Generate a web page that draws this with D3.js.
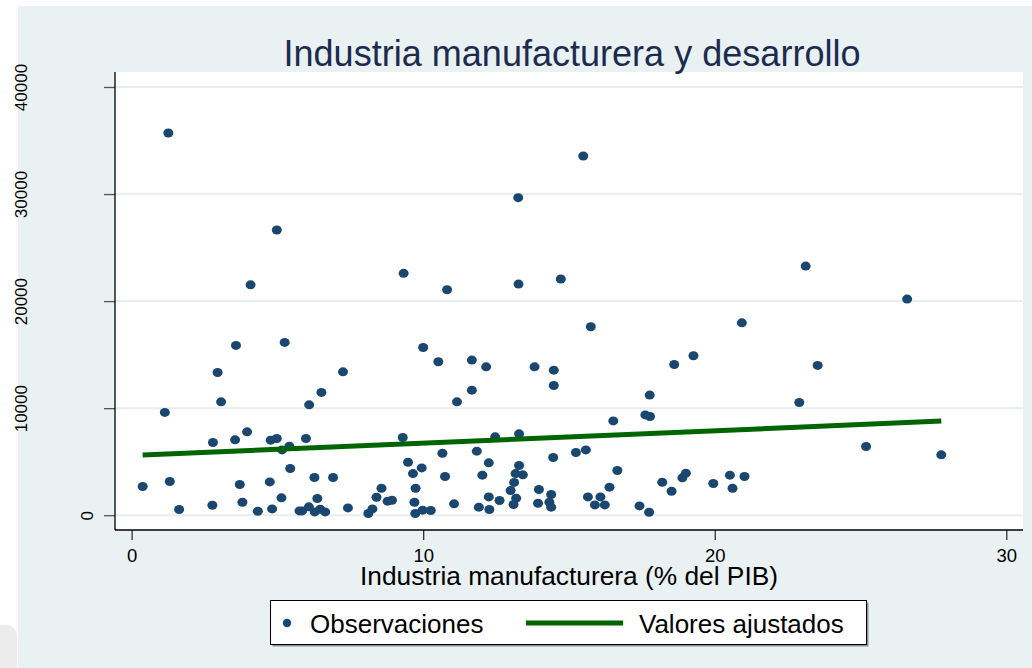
<!DOCTYPE html>
<html>
<head>
<meta charset="utf-8">
<script src="https://cdn.jsdelivr.net/npm/d3@7"></script>
<style>
  body { margin: 0; background: #ffffff; }
  svg { display: block; }
</style>
</head>
<body>
<div id="chart"></div>
<script>
// Datos: industria manufacturera (% del PIB) y PIB per cápita
const manufactura = [
  1.26, 4.98, 4.08, 9.33, 15.49, 13.26, 10.82, 13.27, 14.72, 15.75, 20.93, 23.12, 26.6,
  0.38, 1.14, 1.31, 1.63, 2.77, 2.79, 2.95, 3.07, 3.58, 3.55, 3.96, 3.71, 3.80, 4.33,
  4.74, 4.82, 4.77, 4.98, 5.14, 5.16, 5.41, 5.25, 5.44, 5.76, 5.85, 6.08, 5.98, 6.09,
  6.27, 6.37, 6.28, 6.51, 6.47, 6.64, 6.91, 7.25, 7.42, 8.12, 8.26, 8.40, 8.57, 8.78,
  8.93, 9.30, 9.48, 9.65, 9.95, 9.74, 9.70, 9.73, 9.98, 10.0, 10.26, 10.52, 11.67, 12.16,
  13.82, 14.48, 14.48, 11.67, 11.16, 19.27, 18.61, 17.77, 16.52, 17.62, 17.78, 12.47,
  13.29, 10.66, 11.84, 12.25, 10.75, 12.03, 13.29, 13.17, 13.42, 13.12, 13.0, 13.19,
  13.10, 12.25, 12.62, 11.91, 12.27, 11.06, 14.46, 13.97, 14.39, 13.94, 14.33, 14.39,
  15.24, 15.58, 16.66, 16.39, 15.65, 16.08, 15.89, 16.23, 17.42, 17.75, 18.20, 18.52,
  18.89, 19.01, 19.95, 20.52, 20.61, 21.02, 23.53, 22.90, 25.19, 27.77
];
const pibPc = [
  35700, 26640, 21520, 22590, 33550, 29660, 21060, 21590, 22060, 17600, 17970, 23270, 20190,
  2680, 9600, 3150, 530, 930, 6790, 13330, 10590, 15860, 7040, 7790, 2870, 1210, 370,
  3110, 590, 7010, 7170, 1620, 6100, 6450, 16140, 4360, 400, 400, 780, 7170, 10310,
  3520, 1560, 310, 11470, 560, 310, 3520, 13390, 680, 160, 590, 1680, 2520, 1310,
  1400, 7260, 4950, 3890, 4420, 2520, 1210, 160, 470, 15670, 440, 14330, 14490, 13860,
  13860, 13550, 12120, 11680, 10590, 14890, 14080, 11220, 8810, 9370, 9220, 7320,
  7600, 5790, 5980, 4890, 3620, 3740, 4640, 3890, 3770, 3060, 2310, 1590,
  1000, 1710, 1370, 750, 530, 1060, 5390, 2400, 1930, 1120, 1210, 750,
  5860, 6100, 4180, 2620, 1710, 1710, 960, 960, 870, 280, 3080, 2240,
  3490, 3930, 2960, 3740, 2520, 3620, 13990, 10530, 6420, 5640
];

// Recta de regresión (valores ajustados)
const ajusteX = [0.38, 27.77];
const ajusteY = [5620, 8790];

const xTicks = [0, 10, 20, 30];
const yTicks = [0, 10000, 20000, 30000, 40000];

const titulo = "Industria manufacturera y desarrollo";
const tituloX = "Industria manufacturera (% del PIB)";
const leyenda = ["Observaciones", "Valores ajustados"];

const W = 1032, H = 668;
const plot = { left: 115, right: 1023, top: 72, bottom: 530 };

const bg = "#e9f1f3";
const navy = "#1a476f";
const verde = "#006400";
const narrow = "'Liberation Sans Narrow', 'Arial Narrow', 'Liberation Sans', sans-serif";
const sans = "'Liberation Sans', Arial, sans-serif";

const svg = d3.select("#chart").append("svg")
    .attr("width", W)
    .attr("height", H);

// Fondo del gráfico
svg.append("rect").attr("x", 18).attr("y", 6).attr("width", W - 18).attr("height", H - 6).attr("fill", bg);
svg.append("rect").attr("x", -10).attr("y", 625).attr("width", 27).attr("height", 60).attr("rx", 10).attr("fill", "#ececec");

// Región del plot
svg.append("rect")
    .attr("x", plot.left).attr("y", plot.top)
    .attr("width", plot.right - plot.left).attr("height", plot.bottom - plot.top)
    .attr("fill", "#ffffff");

// Escalas
const x = d3.scaleLinear().domain([0, 30]).range([131.6, 1006.3]);
const y = d3.scaleLinear().domain([0, 40000]).range([515.2, 87]);

// Líneas de cuadrícula
svg.append("g").selectAll("line").data(yTicks).join("line")
    .attr("x1", plot.left).attr("x2", plot.right)
    .attr("y1", d => y(d)).attr("y2", d => y(d))
    .attr("stroke", "#e6eef0").attr("stroke-width", 2);

// Eje Y
const yAxis = svg.append("g")
    .attr("transform", `translate(${plot.left},0)`)
    .call(d3.axisLeft(y).tickValues(yTicks).tickFormat(d3.format("d")).tickSize(11).tickPadding(0));
yAxis.select(".domain").remove();
yAxis.selectAll(".tick line").attr("stroke", "#555").attr("stroke-width", 1.3);
yAxis.selectAll(".tick text")
    .attr("x", null).attr("dy", null)
    .attr("text-anchor", "middle")
    .attr("font-family", sans)
    .attr("font-size", 17)
    .attr("fill", "#000")
    .attr("transform", function(d) {
        const n = String(d).length;
        const cx = 87 - (n - 1) * 16.5 - plot.left + 6;
        return `translate(${cx},0) rotate(-90)`;
    });

// Eje X
const xAxis = svg.append("g")
    .attr("transform", `translate(0,${plot.bottom})`)
    .call(d3.axisBottom(x).tickValues(xTicks).tickSize(10).tickPadding(8));
xAxis.select(".domain").remove();
xAxis.selectAll(".tick line").attr("stroke", "#333").attr("stroke-width", 1.3);
xAxis.selectAll(".tick text")
    .attr("y", 32).attr("dy", null)
    .attr("font-family", sans)
    .attr("font-size", 18.5)
    .attr("fill", "#000");

// Líneas de los ejes
svg.append("line").attr("x1", plot.left).attr("x2", plot.left)
    .attr("y1", plot.top).attr("y2", plot.bottom).attr("stroke", "#000").attr("stroke-width", 1.3);
svg.append("line").attr("x1", plot.left).attr("x2", plot.right)
    .attr("y1", plot.bottom).attr("y2", plot.bottom).attr("stroke", "#000").attr("stroke-width", 1.3);

// Observaciones
svg.append("g").selectAll("ellipse").data(manufactura).join("ellipse")
    .attr("cx", d => x(d))
    .attr("cy", (d, i) => y(pibPc[i]))
    .attr("rx", 5).attr("ry", 4.5)
    .attr("fill", navy);

// Valores ajustados
svg.append("path")
    .datum(ajusteX.map((d, i) => [d, ajusteY[i]]))
    .attr("d", d3.line().x(d => x(d[0])).y(d => y(d[1])))
    .attr("stroke", verde).attr("stroke-width", 5).attr("fill", "none");

// Títulos
svg.append("text")
    .attr("x", 572).attr("y", 66)
    .attr("text-anchor", "middle")
    .attr("font-family", narrow)
    .attr("font-size", 36)
    .attr("fill", "#1c2b4f")
    .attr("textLength", 577).attr("lengthAdjust", "spacingAndGlyphs")
    .text(titulo);

svg.append("text")
    .attr("x", 569).attr("y", 585)
    .attr("text-anchor", "middle")
    .attr("font-family", narrow)
    .attr("font-size", 26)
    .attr("fill", "#000")
    .attr("textLength", 418).attr("lengthAdjust", "spacingAndGlyphs")
    .text(tituloX);

// Leyenda
const lg = svg.append("g");
lg.append("rect").attr("x", 272.5).attr("y", 602.5).attr("width", 596).attr("height", 44).attr("fill", "#8a9296");
lg.append("rect").attr("x", 270.5).attr("y", 600.5).attr("width", 596).attr("height", 44)
    .attr("fill", "#fff").attr("stroke", "#000").attr("stroke-width", 1);
lg.append("circle").attr("cx", 287).attr("cy", 623).attr("r", 4.2).attr("fill", navy);
lg.append("line").attr("x1", 526).attr("x2", 623).attr("y1", 623).attr("y2", 623)
    .attr("stroke", verde).attr("stroke-width", 5);
lg.selectAll("text").data(leyenda).join("text")
    .attr("x", (d, i) => i === 0 ? 310 : 639)
    .attr("y", 632.5)
    .attr("font-family", sans)
    .attr("font-size", 26)
    .attr("fill", "#000")
    .text(d => d);
</script>
</body>
</html>
